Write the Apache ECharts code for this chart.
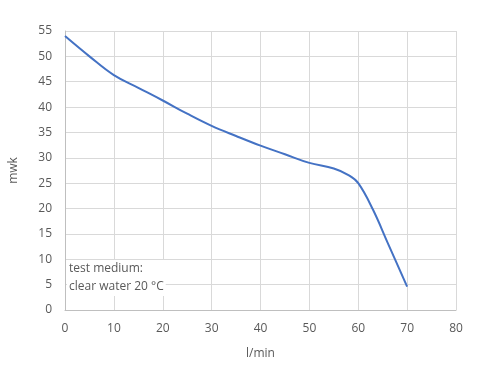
<!DOCTYPE html>
<html><head><meta charset="utf-8">
<script src="https://cdn.jsdelivr.net/npm/echarts@6/dist/echarts.min.js"></script>
<style>html,body{margin:0;padding:0;background:#fff}#c{width:485px;height:368px}</style>
</head><body><div id="c"></div>
<script>
const flow = [0, 5, 10, 15, 20, 25, 30, 35, 40, 45, 50, 55, 58, 60, 63, 66, 70];
const head = [54, 50, 46.3, 43.8, 41.3, 38.7, 36.3, 34.3, 32.4, 30.7, 29, 27.9, 26.6, 25, 19.8, 13.3, 4.6];
const xName = 'l/min';
const yName = 'mwk';
const noteLines = ['test medium:', 'clear water 20 °C'];

const chart = echarts.init(document.getElementById('c'), null, {renderer: 'canvas'});
const txt = '#595959';
const font = "'Open Sans', 'Noto Sans', sans-serif";
chart.setOption({
  animation: false,
  textStyle: {fontFamily: font},
  grid: {left: 63, right: 29, top: 31, bottom: 58},
  xAxis: {
    type: 'value', min: 0, max: 80, interval: 10,
    name: xName, nameLocation: 'middle', nameGap: 38,
    nameTextStyle: {color: txt, fontSize: 12, fontFamily: font},
    axisLine: {show: true, lineStyle: {color: '#bfbfbf'}},
    axisTick: {show: false},
    axisLabel: {color: txt, fontSize: 12, margin: 13, fontFamily: font},
    splitLine: {show: true, lineStyle: {color: '#d9d9d9'}}
  },
  yAxis: {
    type: 'value', min: 0, max: 55, interval: 5,
    name: yName, nameLocation: 'middle', nameGap: 45, nameRotate: 90,
    nameTextStyle: {color: txt, fontSize: 12, fontFamily: font},
    axisLine: {show: true, lineStyle: {color: '#bfbfbf'}},
    axisTick: {show: false},
    axisLabel: {color: txt, fontSize: 12, margin: 13, fontFamily: font},
    splitLine: {show: true, lineStyle: {color: '#d9d9d9'}}
  },
  series: [{
    type: 'line', data: flow.map((x, i) => [x, head[i]]),
    smooth: 0.4, showSymbol: false,
    lineStyle: {color: '#4472c4', width: 2}
  }],
  graphic: [{
    type: 'text', left: 67, top: 260, z: 10,
    style: {
      text: noteLines.join('\n'), fill: txt, fontSize: 12, fontFamily: font,
      lineHeight: 18, backgroundColor: '#fff', padding: [0, 2, 0, 2]
    }
  }]
});
</script></body></html>
